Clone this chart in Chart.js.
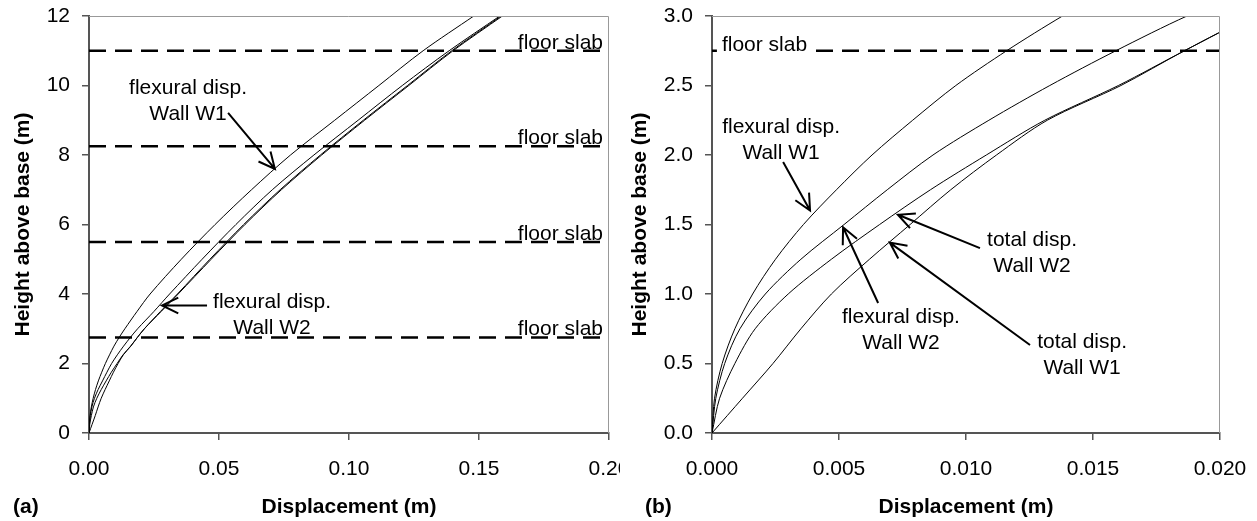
<!DOCTYPE html>
<html>
<head>
<meta charset="utf-8">
<script src="https://cdn.jsdelivr.net/npm/chart.js@4.4.1/dist/chart.umd.min.js"></script>
<style>
  html, body { margin:0; padding:0; background:#fff; }
  #wrap { position:relative; width:1257px; height:521px; overflow:hidden; }
  canvas { position:absolute; top:0; }
  #chart-a { left:0; }
  #chart-b { left:620px; }
</style>
</head>
<body>
<div id="wrap">
  <canvas id="chart-a" width="620" height="521"></canvas>
  <canvas id="chart-b" width="637" height="521"></canvas>
</div>
<script>
// --- data: height above base (m) and displacement (m) of each curve ---
const heights  = [0, 0.25, 0.5, 0.75, 1.0, 1.25, 1.5, 1.75, 2.0, 2.25, 2.5, 2.75, 3.0, 3.5, 4, 5, 6, 7, 8, 9, 10, 11, 12];
const flexW1   = [0, 0.0001, 0.0004, 0.0009, 0.0016, 0.0025, 0.0036, 0.0049, 0.0063, 0.0079, 0.0096, 0.0116, 0.0138, 0.0185, 0.0235, 0.0355, 0.0485, 0.0625, 0.0775, 0.0945, 0.1115, 0.1285, 0.148];
const flexW2   = [0, 0.00015, 0.0005, 0.0011, 0.0021, 0.0035, 0.0052, 0.0069, 0.0087, 0.0109, 0.0133, 0.0159, 0.0187, 0.025, 0.031, 0.0435, 0.0565, 0.0705, 0.0865, 0.1035, 0.1205, 0.1385, 0.158];
const totalW2  = [0, 0.0003, 0.0009, 0.0017, 0.0030, 0.0047, 0.0066, 0.0086, 0.0108, 0.0131, 0.0160, 0.0186, 0.0213, 0.0275, 0.034, 0.0465, 0.0595, 0.0735, 0.089, 0.1055, 0.1225, 0.1395, 0.1585];
const totalW1  = [0, 0.0012, 0.0024, 0.0035, 0.0047, 0.0062, 0.0078, 0.0094, 0.0112, 0.0132, 0.0161, 0.0186, 0.0213, 0.0278, 0.0343, 0.047, 0.060, 0.074, 0.0895, 0.106, 0.123, 0.140, 0.159];
const floorLevels = [2.75, 5.5, 8.25, 11];

// axis ranges / tick steps
const xMaxA = 0.20, xStepA = 0.05, yMaxA = 12, yStepA = 2;
const xMaxB = 0.020, xStepB = 0.005, yMaxB = 3.0, yStepB = 0.5;

const FONT = "'Liberation Sans', Arial, Helvetica, sans-serif";
Chart.defaults.font.family = FONT;
Chart.defaults.color = '#000';

function curve(xs) { return heights.map((h, i) => ({ x: xs[i], y: h })); }

function buildDatasets(xMax, levels) {
  const sets = [flexW1, flexW2, totalW2, totalW1].map(xs => ({
    data: curve(xs), borderColor: '#000', borderWidth: 1, pointRadius: 0,
    showLine: true, tension: 0.3
  }));
  levels.forEach(lv => sets.push({
    data: [{ x: 0, y: lv }, { x: xMax, y: lv }], borderColor: '#000', borderWidth: 2.5,
    borderDash: [17, 9], pointRadius: 0, showLine: true
  }));
  return sets;
}

// annotation notes (positions in data units)
const notesA = [
  { x: 0.0381, y: 9.93, lines: ['flexural disp.', 'Wall W1'], arrow: [0.0535, 9.21, 0.0715, 7.6] },
  { x: 0.0704, y: 3.77, lines: ['flexural disp.', 'Wall W2'], arrow: [0.0454, 3.67, 0.0281, 3.67] }
];
const notesB = [
  { x: 0.00272, y: 2.20, lines: ['flexural disp.', 'Wall W1'], arrow: [0.0028, 1.95, 0.00386, 1.60] },
  { x: 0.00744, y: 0.83, lines: ['flexural disp.', 'Wall W2'], arrow: [0.00654, 0.935, 0.00516, 1.48] },
  { x: 0.0126,  y: 1.39, lines: ['total disp.', 'Wall W2'],    arrow: [0.01055, 1.33, 0.00732, 1.57] },
  { x: 0.01457, y: 0.65, lines: ['total disp.', 'Wall W1'],    arrow: [0.01252, 0.633, 0.0070, 1.37] }
];

const overlay = {
  id: 'overlay',
  afterDatasetsDraw(chart, args, o) {
    const { ctx, chartArea: a, scales: { x, y } } = chart;
    ctx.save();
    // light frame on top and right
    ctx.strokeStyle = '#999'; ctx.lineWidth = 1;
    ctx.beginPath();
    ctx.moveTo(a.left, a.top + 0.5); ctx.lineTo(a.right - 0.5, a.top + 0.5); ctx.lineTo(a.right - 0.5, a.bottom);
    ctx.stroke();

    ctx.fillStyle = '#000';
    ctx.font = '21px ' + FONT;
    // floor slab labels
    o.slabs.forEach(lv => {
      const py = y.getPixelForValue(lv);
      if (o.slabSide === 'right') {
        ctx.textAlign = 'right'; ctx.textBaseline = 'alphabetic';
        ctx.fillText('floor slab', x.getPixelForValue(o.slabX), py - 2);
      } else {
        const px = x.getPixelForValue(o.slabX);
        const w = ctx.measureText('floor slab').width;
        ctx.fillStyle = '#fff';
        ctx.fillRect(px - 5, py - 20, w + 10, 24);
        ctx.fillStyle = '#000';
        ctx.textAlign = 'left'; ctx.textBaseline = 'alphabetic';
        ctx.fillText('floor slab', px, py);
      }
    });

    // notes with arrows
    o.notes.forEach(n => {
      const cx = x.getPixelForValue(n.x), cy = y.getPixelForValue(n.y);
      ctx.textAlign = 'center'; ctx.textBaseline = 'middle';
      n.lines.forEach((t, i) => ctx.fillText(t, cx, cy + i * 26));
      const [x1, y1, x2, y2] = n.arrow;
      const ax = x.getPixelForValue(x1), ay = y.getPixelForValue(y1);
      const bx = x.getPixelForValue(x2), by = y.getPixelForValue(y2);
      const ang = Math.atan2(by - ay, bx - ax), L = 18, s = 0.45;
      ctx.strokeStyle = '#000'; ctx.lineWidth = 2;
      ctx.beginPath();
      ctx.moveTo(ax, ay); ctx.lineTo(bx, by);
      ctx.moveTo(bx - L * Math.cos(ang - s), by - L * Math.sin(ang - s));
      ctx.lineTo(bx, by);
      ctx.lineTo(bx - L * Math.cos(ang + s), by - L * Math.sin(ang + s));
      ctx.stroke();
    });

    // panel letter
    ctx.font = 'bold 21px ' + FONT;
    ctx.textAlign = 'left'; ctx.textBaseline = 'middle';
    ctx.fillText(o.panel, o.panelX, 507);
    ctx.restore();
  }
};

function makeChart(id, cfg) {
  const axisLine = { display: true, color: '#555', width: 2 };
  const grid = { display: true, drawOnChartArea: false, drawTicks: true, tickLength: 7, color: '#555', lineWidth: 1.5 };
  return new Chart(document.getElementById(id), {
    type: 'scatter',
    data: { datasets: buildDatasets(cfg.xMax, cfg.levels) },
    options: {
      responsive: false,
      animation: false,
      layout: { padding: { top: 16, right: cfg.padRight, bottom: 0, left: 0 } },
      plugins: { legend: { display: false }, tooltip: { enabled: false }, overlay: cfg.overlay },
      scales: {
        x: {
          type: 'linear', min: 0, max: cfg.xMax,
          border: axisLine, grid: grid,
          ticks: { stepSize: cfg.xStep, padding: 17, font: { size: 21 }, callback: v => v.toFixed(cfg.xDec) },
          title: { display: true, text: 'Displacement (m)', font: { size: 21, weight: 'bold', lineHeight: 1.2 }, padding: { top: 0, bottom: 1 } },
          afterFit: s => { s.height = 88; s.paddingLeft = 0; s.paddingRight = 0; }
        },
        y: {
          type: 'linear', min: 0, max: cfg.yMax,
          border: axisLine, grid: grid,
          ticks: { stepSize: cfg.yStep, padding: 12, font: { size: 21 }, callback: v => v.toFixed(cfg.yDec) },
          title: { display: true, text: 'Height above base (m)', font: { size: 21, weight: 'bold', lineHeight: 1.2 }, padding: { top: cfg.yTitlePad, bottom: 0 } },
          afterFit: s => { s.width = cfg.yWidth; s.paddingTop = 0; s.paddingBottom = 0; }
        }
      }
    },
    plugins: [overlay]
  });
}

makeChart('chart-a', {
  xMax: xMaxA, xStep: xStepA, xDec: 2, yMax: yMaxA, yStep: yStepA, yDec: 0,
  levels: floorLevels, padRight: 11, yWidth: 89, yTitlePad: 11,
  overlay: { notes: notesA, slabs: floorLevels, slabSide: 'right', slabX: 0.1977, panel: '(a)', panelX: 13 }
});

makeChart('chart-b', {
  xMax: xMaxB, xStep: xStepB, xDec: 3, yMax: yMaxB, yStep: yStepB, yDec: 1,
  levels: [floorLevels[0]], padRight: 37, yWidth: 92, yTitlePad: 8,
  overlay: { notes: notesB, slabs: [floorLevels[0]], slabSide: 'left', slabX: 0.00039, panel: '(b)', panelX: 25 }
});
</script>
</body>
</html>
